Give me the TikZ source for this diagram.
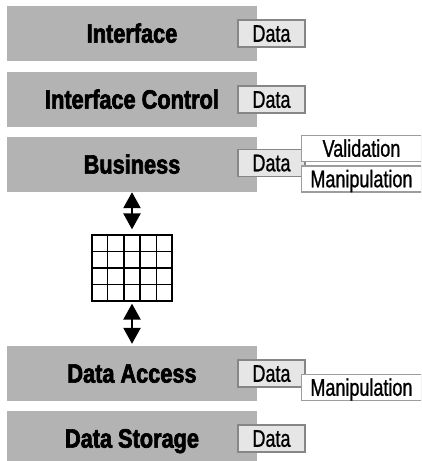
\documentclass[tikz,border=0pt]{standalone}
\usepackage{fontspec}
\usetikzlibrary{calc,positioning,arrows.meta}
\newfontfamily\layerfont{Liberation Sans}[FakeStretch=0.82,BoldFeatures={FakeBold=2.5}]
\newfontfamily\datafont{Liberation Sans}[FakeStretch=0.75,FakeBold=1]
\definecolor{layergray}{HTML}{B3B3B3}
\definecolor{datagray}{HTML}{E6E6E6}
\definecolor{databorder}{HTML}{868686}
\definecolor{subborder}{HTML}{9C9C9C}
\tikzset{
layer/.style={fill=layergray, minimum width=250pt, minimum height=55pt, inner sep=0pt,
  text height=18.2pt, text depth=0pt, font=\layerfont\bfseries\fontsize{26.5}{31}\selectfont},
databox/.style={fill=datagray, draw=databorder, line width=1.6pt, minimum width=67pt,
  minimum height=27pt, inner sep=0pt, text height=16.5pt, text depth=0pt,
  font=\datafont\fontsize{24}{28}\selectfont},
subbox/.style={fill=white, draw=subborder, line width=1.3pt, minimum width=120pt,
  minimum height=26pt, inner sep=0pt, text height=16.5pt, text depth=0pt,
  font=\datafont\fontsize{24}{28}\selectfont},
updown/.style={{Triangle[length=16pt,width=17pt]}-{Triangle[length=16pt,width=17pt]}, line width=2.6pt}
}

\begin{document}
\begin{tikzpicture}[x=1pt,y=-1pt]
\clip (0,0) rectangle (421,461);
% layers
\node[layer] (iface) at (132,33.5) {Interface};
\node[layer] (ifacectl) at (132,99.5) {Interface Control};
\node[layer] (business) at (132,164.5) {Business};
\node[layer] (access) at (132,373.5) {Data Access};
\node[layer] (storage) at (132,438.5) {Data Storage};
% data boxes
\node[databox, right=-20pt of iface] (ifacedata) {Data};
\node[databox, right=-20pt of ifacectl] (ifacectldata) {Data};
\node[databox, right=-20pt of business, yshift=1.5pt] (busdata) {Data};
\node[databox, right=-20pt of access] (accessdata) {Data};
\node[databox, right=-20pt of storage] (storagedata) {Data};
\node[subbox, anchor=west] (valid) at ($(busdata.east)+(-5pt,14.5pt)$) {Validation};
\node[subbox, anchor=west] (busmanip) at ($(busdata.east)+(-5pt,-16pt)$) {Manipulation};
\node[subbox, anchor=west] (accessmanip) at ($(accessdata.east)+(-5pt,-14pt)$) {Manipulation};
% cache grid
\node[draw, line width=1.3pt, minimum width=80pt, minimum height=66pt, inner sep=0pt] (cache) at (132,268) {};
\draw[line width=1.3pt] ($(cache.north west)!0.2!(cache.north east)$) -- ($(cache.south west)!0.2!(cache.south east)$);
\draw[line width=1.3pt] ($(cache.north west)!0.4!(cache.north east)$) -- ($(cache.south west)!0.4!(cache.south east)$);
\draw[line width=1.3pt] ($(cache.north west)!0.6!(cache.north east)$) -- ($(cache.south west)!0.6!(cache.south east)$);
\draw[line width=1.3pt] ($(cache.north west)!0.8!(cache.north east)$) -- ($(cache.south west)!0.8!(cache.south east)$);
\draw[line width=1.3pt] ($(cache.north west)!0.25!(cache.south west)$) -- ($(cache.north east)!0.25!(cache.south east)$);
\draw[line width=1.3pt] ($(cache.north west)!0.5!(cache.south west)$) -- ($(cache.north east)!0.5!(cache.south east)$);
\draw[line width=1.3pt] ($(cache.north west)!0.75!(cache.south west)$) -- ($(cache.north east)!0.75!(cache.south east)$);
% arrows
\draw[updown] (business.south) -- ([yshift=5pt]cache.north);
\draw[updown] ([yshift=-2pt]cache.south) -- ([yshift=2pt]access.north);
\end{tikzpicture}
\end{document}
